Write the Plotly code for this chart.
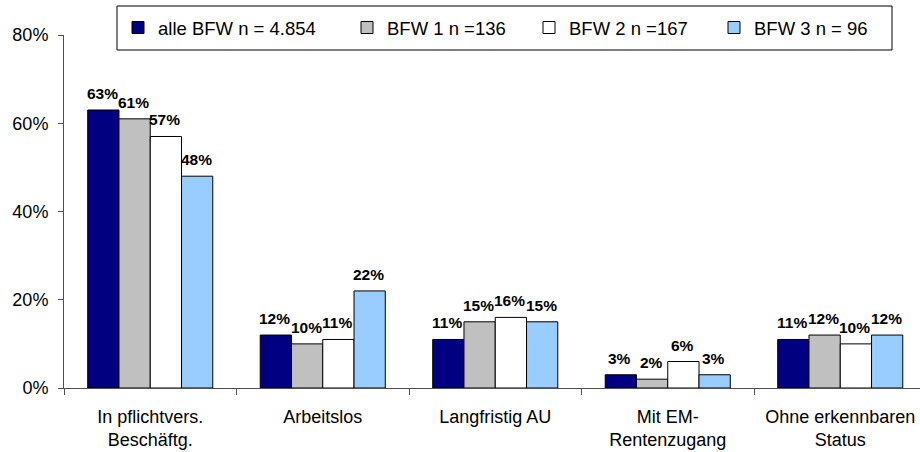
import plotly.graph_objects as go

# Status categories (x axis)
categories = ["In pflichtvers.<br>Beschäftg.", "Arbeitslos", "Langfristig AU",
              "Mit EM-<br>Rentenzugang", "Ohne erkennbaren<br>Status"]

# Series names and shares in percent
series_names = ["alle BFW n = 4.854", "BFW 1 n =136", "BFW 2 n =167", "BFW 3 n = 96"]
alle_bfw = [63, 12, 11, 3, 11]
bfw_1 = [61, 10, 15, 2, 12]
bfw_2 = [57, 11, 16, 6, 10]
bfw_3 = [48, 22, 15, 3, 12]

y_ticks = [0, 20, 40, 60, 80]
y_tick_labels = ["0%", "20%", "40%", "60%", "80%"]

series_values = [alle_bfw, bfw_1, bfw_2, bfw_3]
colors = ["#000080", "#C0C0C0", "#FFFFFF", "#99CCFF"]

# Layout geometry in pixels
W, H = 920, 452
M_L, M_R, M_T, M_B = 64, 0, 35, 64
plot_w = W - M_L - M_R
plot_h = H - M_T - M_B
cat_px = 172.5                     # width of one category slot
x_hi = -0.5 + plot_w / cat_px      # right end of the visible range
bargap = 0.275
bar_px = cat_px * (1 - bargap) / 4

FONT = "Liberation Sans, Arial, sans-serif"

fig = go.Figure()
legend_ids = ["legend", "legend2", "legend3", "legend4"]
for i, (name, vals, col) in enumerate(zip(series_names, series_values, colors)):
    fig.add_trace(go.Bar(
        x=categories, y=vals, name=name,
        marker=dict(color=col, line=dict(color="#000000", width=1)),
        legend=legend_ids[i],
        hoverinfo="skip",
    ))

# Value labels above each bar
for i, vals in enumerate(series_values):
    for c, v in zip(categories, vals):
        fig.add_annotation(
            x=c, y=v, xref="x", yref="y",
            text=f"<b>{v}%</b>", showarrow=False,
            xanchor="center", yanchor="bottom",
            xshift=(i - 1.5) * bar_px - 1, yshift=6,
            font=dict(family=FONT, size=15.5, color="#000000"),
        )

# Legend frame
def px_x(p):
    return (p - M_L) / plot_w

def px_y(p):
    return (H - M_B - p) / plot_h

fig.add_shape(type="rect", xref="paper", yref="paper",
              x0=px_x(117), x1=px_x(892), y0=px_y(50), y1=px_y(6),
              line=dict(color="#000000", width=1), fillcolor="#FFFFFF",
              layer="above")

# One legend per series, placed along the frame
text_starts = [159, 388, 570, 755]
legend_layout = {}
for lid, ts in zip(legend_ids, text_starts):
    legend_layout[lid] = dict(
        x=px_x(ts - 41), y=px_y(28), xanchor="left", yanchor="middle",
        xref="paper", yref="paper",
        bgcolor="rgba(0,0,0,0)", borderwidth=0,
        font=dict(family=FONT, size=18.5, color="#000000"),
        itemclick=False, itemdoubleclick=False,
    )

fig.update_layout(
    width=W, height=H,
    margin=dict(l=M_L, r=M_R, t=M_T, b=M_B, autoexpand=False),
    paper_bgcolor="#FFFFFF", plot_bgcolor="#FFFFFF",
    barmode="group", bargap=bargap, bargroupgap=0,
    showlegend=True,
    font=dict(family=FONT, size=18, color="#000000"),
    **legend_layout,
)

fig.update_xaxes(
    type="category", range=[-0.5, x_hi],
    showline=True, linecolor="#505050", linewidth=1,
    ticks="outside", tickson="boundaries", ticklen=6, tickcolor="#505050",
    showgrid=False, zeroline=False,
    tickfont=dict(family=FONT, size=18, color="#000000"),
    ticklabelstandoff=12,
)
fig.update_yaxes(
    range=[0, 80], tickvals=y_ticks, ticktext=y_tick_labels,
    showline=True, linecolor="#505050", linewidth=1,
    ticks="outside", ticklen=5, tickcolor="#505050",
    showgrid=False, zeroline=False,
    tickfont=dict(family=FONT, size=18, color="#000000"),
    ticklabelstandoff=6,
)

fig.write_html("out.html")
